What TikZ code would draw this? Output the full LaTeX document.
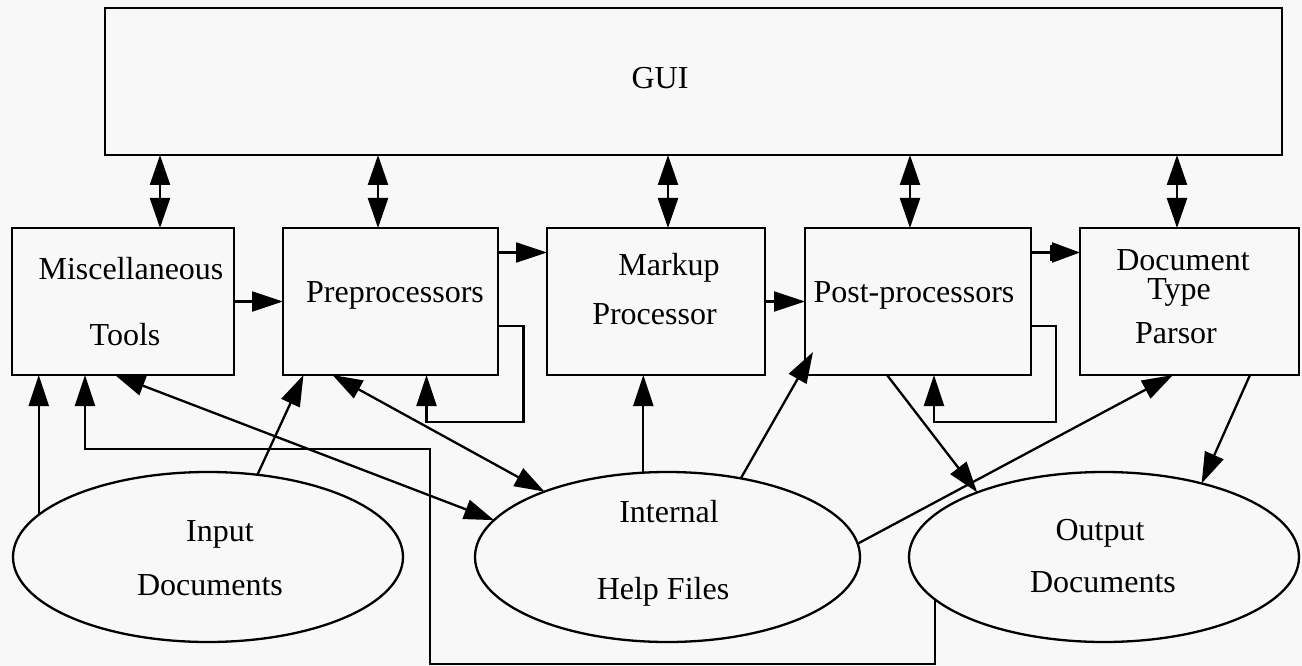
\documentclass[tikz,border=0pt]{standalone}
\usepackage{fontspec}
\setmainfont{Liberation Serif}
\usetikzlibrary{arrows.meta,shapes.geometric}
\definecolor{bgc}{RGB}{248,248,248}
\begin{document}
\begin{tikzpicture}[x=1pt,y=-1pt,
  line width=2.3pt,
  box/.style={draw, line width=2.5pt, rectangle, anchor=north west, inner sep=0pt, outer sep=0pt},
  oval/.style={draw, ellipse, line width=2.3pt, inner sep=0pt, outer sep=0pt},
  lbl/.style={anchor=base, inner sep=0pt, font=\fontsize{32}{38}\selectfont},
  arr/.style={-{Triangle[length=31pt,width=20pt]}},
  arrbar/.style={-{Bar[width=16pt,line width=1.8pt,sep=0pt]Triangle[length=28pt,width=20pt]}},
  dbl/.style={{Triangle[length=30pt,width=20pt]}-{Triangle[length=30pt,width=20pt]}},
]
\useasboundingbox (0,0) rectangle (1302,666);
\fill[bgc] (0,0) rectangle (1302,666);

% boxes
\node[box, minimum width=1177pt, minimum height=147pt] (gui) at (105,8) {};
\node[box, minimum width=222pt, minimum height=147pt] (misc) at (12,228) {};
\node[box, minimum width=215pt, minimum height=147pt] (pre) at (283,228) {};
\node[box, minimum width=218pt, minimum height=147pt] (mark) at (547,228) {};
\node[box, minimum width=226pt, minimum height=147pt] (post) at (805,228) {};
\node[box, minimum width=219pt, minimum height=147pt] (doc) at (1080,228) {};

% ellipses
\node[oval, minimum width=390pt, minimum height=170pt] (input) at (208,557) {};
\node[oval, minimum width=385pt, minimum height=170pt] (internal) at (667.5,557) {};
\node[oval, minimum width=390pt, minimum height=170pt] (output) at (1104,557) {};

% texts
\node[lbl] (tgui) at (660,89) {GUI};
\node[lbl] (tmisc1) at (131,279) {Miscellaneous};
\node[lbl] (tmisc2) at (125,345) {Tools};
\node[lbl] (tpre) at (395,302) {Preprocessors};
\node[lbl] (tmark1) at (669,275) {Markup};
\node[lbl] (tmark2) at (654.5,324) {Processor};
\node[lbl] (tpost) at (914,302) {Post-processors};
\node[lbl] (tdoc1) at (1183,270) {Document};
\node[lbl] (tdoc2) at (1179,299) {Type};
\node[lbl] (tdoc3) at (1176,343) {Parsor};
\node[lbl] (tin1) at (220,541) {Input};
\node[lbl] (tin2) at (210,595) {Documents};
\node[lbl] (tint1) at (669,522) {Internal};
\node[lbl] (tint2) at (663,599) {Help Files};
\node[lbl] (tout1) at (1100,540) {Output};
\node[lbl] (tout2) at (1103,592) {Documents};

% GUI links
\draw[dbl] ([xshift=37pt]misc.north |- gui.south) -- ([xshift=37pt]misc.north);
\draw[dbl] ([xshift=-12.5pt]pre.north |- gui.south) -- ([xshift=-12.5pt]pre.north);
\draw[dbl] ([xshift=12pt]mark.north |- gui.south) -- ([xshift=12pt]mark.north);
\draw[dbl] ([xshift=-8pt]post.north |- gui.south) -- ([xshift=-8pt]post.north);
\draw[dbl] ([xshift=-12.5pt]doc.north |- gui.south) -- ([xshift=-12.5pt]doc.north);

% chain
\draw[arr] (misc.east) -- (pre.west);
\draw[arr] ([yshift=49pt]pre.east) -- ([yshift=49pt]mark.west);
\draw[arr] (mark.east) -- (post.west);
\draw[arrbar] ([yshift=49pt]post.east) -- ([yshift=49pt]doc.west);

% self loops
\draw[arr] ([yshift=-24.5pt]pre.east) -- ++(25.5,0) -- ++(0,96) -| ([xshift=36pt]pre.south);
\draw[arr] ([yshift=-24.5pt]post.east) -- ++(25,0) -- ++(0,96) -| ([xshift=16pt]post.south);

% lower connections
\coordinate (lowrun) at (430,664);
\coordinate (midrun) at (430,449);
\draw[arr] (input.166) -- (input.166 |- misc.south);
\draw[arr] (input.59) -- ([xshift=-87pt]pre.south);
\draw[dbl] ([xshift=-8pt]misc.south) -- (internal.168);
\draw[dbl] ([xshift=-58pt]pre.south) -- (internal.152);
\draw[arr] (internal.106) -- (internal.106 |- mark.south);
\draw[arr] (internal.47) -- ([xshift=8pt,yshift=23pt]post.south west);
\draw[arr] ([xshift=-31pt]post.south) -- (output.153);
\draw[arr] (internal.4) -- ([xshift=-16.5pt]doc.south);
\draw[arr] ([xshift=60.5pt]doc.south) -- (output.37);
\draw[arr] (output.194) |- (lowrun) |- ([xshift=-38pt]misc.south |- midrun) -- ([xshift=-38pt]misc.south);
\end{tikzpicture}
\end{document}
